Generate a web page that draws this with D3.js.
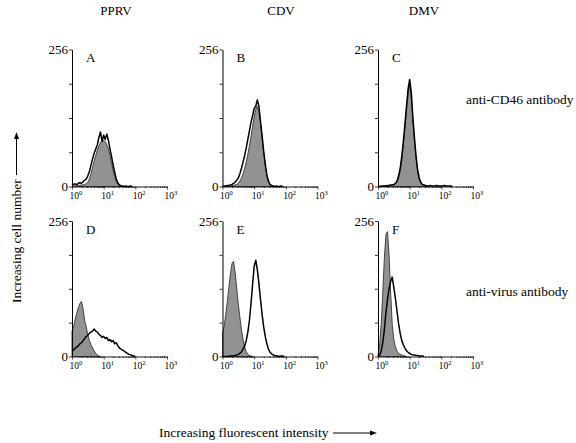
<!DOCTYPE html>
<html><head><meta charset="utf-8">
<script src="https://cdn.jsdelivr.net/npm/d3@7"></script>
<style>
body{margin:0;background:#fff}
svg{display:block}
text{font-family:"Liberation Serif","Times New Roman",serif;fill:#000}
</style>
</head><body>
<svg id="c" width="576" height="443"></svg>
<script>
// ---- data ----
const columns = ["PPRV", "CDV", "DMV"];
const rowLabels = ["anti-CD46 antibody", "anti-virus antibody"];
const panelLetters = ["A", "B", "C", "D", "E", "F"];
const yTicks = [0, 64, 128, 192, 256];
const yTickLabels = ["0", "", "", "", "256"];
const xDecades = [1, 10, 100, 1000];
const xExponents = ["0", "1", "2", "3"];
const binStep = 0.05; // histogram bin width in log10 units, first bin at 10^0

// counts per bin
const pprvCD46Fill = [0,1,1,1,2,2,3,3,4,5,8,14,24,36,48,58,68,76,82,85,86,84,78,70,58,44,30,18,9,4,2,1,0];
const pprvCD46Line = [2,4,5,3,6,7,6,9,12,14,20,28,40,52,62,70,78,92,102,84,96,88,98,86,70,56,40,26,14,6,3,1,1,0,1,0,0,1,0];
const cdvCD46Fill  = [0,0,0,1,1,1,2,2,3,4,6,10,16,24,34,46,60,76,94,112,130,144,150,140,118,92,64,40,20,9,3,1,0];
const cdvCD46Line  = [0,1,1,2,2,3,4,6,8,12,16,24,34,46,58,72,88,104,120,132,146,150,162,150,122,95,66,42,22,10,4,2,1,0,1,0,0,1,0];
const dmvCD46Fill  = [0,0,0,0,1,1,1,2,2,3,3,5,8,16,28,48,76,108,142,174,190,168,124,86,52,28,14,6,3,2,1,1,0];
const dmvCD46Line  = [0,0,1,1,1,1,2,2,3,3,4,6,10,20,34,56,84,116,150,182,200,176,130,92,58,32,16,8,4,3,2,1,1,2,1,1,1,2,1,1,1,1,2,1,1,1,1,0];
const pprvVirusFill = [48,56,70,82,92,100,104,90,68,56,40,30,22,16,11,6,3,1,0];
const pprvVirusLine = [10,12,16,18,20,24,26,30,34,38,40,44,46,48,52,48,46,42,40,36,38,34,36,30,32,28,30,24,26,20,16,14,12,10,8,6,4,3,2,1,0];
const cdvVirusFill  = [44,56,78,102,130,156,176,180,158,128,98,74,50,32,18,9,4,2,1,0];
const cdvVirusLine  = [0,0,0,0,0,1,1,1,2,3,4,6,9,14,20,30,46,68,100,136,170,182,164,138,108,80,56,38,24,14,8,5,3,2,1,1,0,1,1,0];
const dmvVirusFill  = [4,20,60,120,185,230,236,190,120,60,32,18,10,6,4,3,2,1,0];
const dmvVirusLine  = [0,2,10,26,50,82,108,128,142,150,130,110,86,62,44,30,22,16,11,8,6,4,3,3,2,2,1,1,1,0];

const panelFills = [pprvCD46Fill, cdvCD46Fill, dmvCD46Fill, pprvVirusFill, cdvVirusFill, dmvVirusFill];
const panelLines = [pprvCD46Line, cdvCD46Line, dmvCD46Line, pprvVirusLine, cdvVirusLine, dmvVirusLine];

// ---- layout ----
const colX = [72, 222.5, 378];
const plotW = 95;
const rowTop = [49.5, 221];
const rowBottom = [186.5, 356.5];
const titleX = [116, 281, 424];

const svg = d3.select("#c");

function toPoints(arr) {
  return arr.map((v, i) => ({ x: Math.pow(10, i * binStep), y: v }));
}

panelLetters.forEach((letter, p) => {
  const col = p % 3, row = Math.floor(p / 3);
  const x = d3.scaleLog().domain([1, 1000]).range([colX[col], colX[col] + plotW]);
  const y = d3.scaleLinear().domain([0, 256]).range([rowBottom[row], rowTop[row]]);
  const g = svg.append("g");

  const fillPts = toPoints(panelFills[p]);
  const linePts = toPoints(panelLines[p]);

  g.append("path")
    .datum(fillPts)
    .attr("d", d3.area().x(d => x(d.x)).y0(y(0)).y1(d => y(d.y)))
    .attr("fill", "#929292")
    .attr("stroke", "#333")
    .attr("stroke-width", 0.9);

  g.append("path")
    .datum(linePts)
    .attr("d", d3.line().x(d => x(d.x)).y(d => y(d.y)))
    .attr("fill", "none")
    .attr("stroke", "#000")
    .attr("stroke-width", 1.5)
    .attr("stroke-linejoin", "round");

  // y axis
  const ya = g.append("g")
    .attr("transform", `translate(${colX[col]},0)`)
    .call(d3.axisLeft(y).tickValues(yTicks).tickSize(3).tickSizeOuter(0).tickPadding(1)
      .tickFormat((d, i) => yTickLabels[i]));
  ya.select(".domain").attr("stroke", "#000").attr("stroke-width", 1);
  ya.selectAll(".tick line").attr("stroke", "#000").attr("stroke-width", 0.8);
  ya.selectAll(".tick text").style("font-family", '"Liberation Serif",serif').style("font-size", "13px").attr("fill", "#000");

  // x axis with log minor ticks
  const xa = g.append("g")
    .attr("transform", `translate(0,${rowBottom[row]})`)
    .call(d3.axisBottom(x).tickValues(x.ticks()).tickSize(1.5).tickSizeOuter(0).tickFormat(""));
  xa.select(".domain").attr("stroke", "#000").attr("stroke-width", 0.9);
  xa.selectAll(".tick line").attr("stroke", "#000").attr("stroke-width", 0.7)
    .attr("y2", d => xDecades.includes(d) ? 3 : 1.5);

  const labels = g.selectAll("text.xl").data(xDecades).enter().append("text")
    .attr("class", "xl")
    .attr("x", d => x(d) - 2.5)
    .attr("y", rowBottom[row] + 12)
    .style("font-size", "9.5px");
  labels.append("tspan").text("10");
  labels.append("tspan").attr("dy", -3.5).style("font-size", "6.5px").text((d, i) => xExponents[i]);

  g.append("text")
    .attr("x", colX[col] + 14)
    .attr("y", rowTop[row] + 12.5)
    .style("font-size", "13px")
    .text(letter);
});

columns.forEach((c, i) => {
  svg.append("text").attr("x", titleX[i]).attr("y", 15).attr("text-anchor", "middle")
    .style("font-size", "13px").text(c);
});

const rowLabelY = [104, 296];
rowLabels.forEach((t, i) => {
  svg.append("text").attr("x", 466).attr("y", rowLabelY[i]).style("font-size", "13.5px").text(t);
});

// axis titles with arrows
svg.append("text").attr("x", 159).attr("y", 437).style("font-size", "13.5px").text("Increasing fluorescent intensity");
svg.append("line").attr("x1", 333).attr("x2", 372).attr("y1", 433).attr("y2", 433).attr("stroke", "#000").attr("stroke-width", 1);
svg.append("path").attr("d", "M377,433 L370,430.5 L370,435.5 Z").attr("fill", "#000");

svg.append("text").attr("transform", "translate(21,303) rotate(-90)").style("font-size", "13.5px").text("Increasing cell number");
svg.append("line").attr("x1", 16.5).attr("x2", 16.5).attr("y1", 175).attr("y2", 137).attr("stroke", "#000").attr("stroke-width", 1);
svg.append("path").attr("d", "M16.5,132 L14,139 L19,139 Z").attr("fill", "#000");
</script>
</body></html>
